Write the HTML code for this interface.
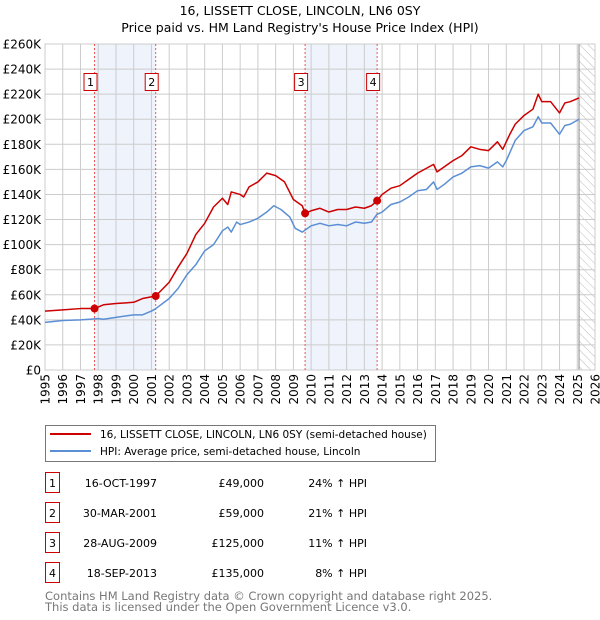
<!DOCTYPE html>
<html><head><meta charset="utf-8">
<style>
body{margin:0;background:#fff;font-family:"Liberation Sans","DejaVu Sans",sans-serif;}
svg{display:block}
text{font-family:"DejaVu Sans","Liberation Sans",sans-serif;}
</style></head>
<body>
<svg id="c" width="600" height="620" viewBox="0 0 600 620">
<defs>
<pattern id="hatch" width="6" height="6" patternUnits="userSpaceOnUse" patternTransform="rotate(-45)">
<line x1="0" y1="0" x2="0" y2="6" stroke="#bbb" stroke-width="1"/>
</pattern>
</defs>
<text x="300" y="15" text-anchor="middle" font-size="12.5">16, LISSETT CLOSE, LINCOLN, LN6 0SY</text>
<text x="300" y="32" text-anchor="middle" font-size="12.5">Price paid vs. HM Land Registry's House Price Index (HPI)</text>
<g id="plot"></g>
<g>
<rect x="45.5" y="425.5" width="390" height="36" fill="#fff" stroke="#777"/>
<line x1="50" y1="434" x2="91" y2="434" stroke="#cc0000" stroke-width="2"/>
<text x="100" y="438" font-size="10.5">16, LISSETT CLOSE, LINCOLN, LN6 0SY (semi-detached house)</text>
<line x1="50" y1="451" x2="91" y2="451" stroke="#5b8fd4" stroke-width="2"/>
<text x="100" y="455" font-size="10.5">HPI: Average price, semi-detached house, Lincoln</text>
</g>
<g id="table" font-size="11"></g>
<text x="45" y="600" font-size="11.5" fill="#777">Contains HM Land Registry data © Crown copyright and database right 2025.</text>
<text x="45" y="611" font-size="11.5" fill="#777">This data is licensed under the Open Government Licence v3.0.</text>
</svg>
<script>
const hpiYears=[1995,1996,1997,1998,1998.3,1999,2000,2000.5,2001,2001.2,2002,2002.5,2003,2003.5,2004,2004.5,2005,2005.3,2005.5,2005.8,2006,2006.5,2007,2007.5,2007.9,2008.3,2008.8,2009.1,2009.5,2010,2010.5,2011,2011.5,2012,2012.5,2013,2013.4,2013.7,2014,2014.5,2015,2015.5,2016,2016.5,2016.9,2017.1,2017.5,2018,2018.5,2019,2019.5,2020,2020.5,2020.8,2021,2021.5,2022,2022.5,2022.8,2023,2023.5,2024,2024.3,2024.6,2025.1];
const hpiValues=[38,39.5,40,41,40.5,42,44,44,47,48.5,57,65,76,84,95,100,111,114,110,118,116,118,121,126,131,128,122,113,110,115,117,115,116,115,118,117,118,124,126,132,134,138,143,144,150,144,148,154,157,162,163,161,166,162,167,183,191,194,202,197,197,188,195,196,200];
const propYears=[1995,1996,1997,1997.79,1998.3,1999,2000,2000.5,2001.24,2002,2002.5,2003,2003.5,2004,2004.5,2005,2005.3,2005.5,2006,2006.2,2006.5,2007,2007.5,2008,2008.5,2009,2009.5,2009.66,2010,2010.5,2011,2011.5,2012,2012.5,2013,2013.4,2013.72,2014,2014.5,2015,2015.5,2016,2016.9,2017.1,2018,2018.5,2019,2019.5,2020,2020.5,2020.8,2021.2,2021.5,2022,2022.5,2022.8,2023,2023.5,2024,2024.3,2024.6,2025.1];
const propValues=[47,48,49,49,52,53,54,57,59,70,82,93,108,117,130,137,132,142,140,138,146,150,157,155,150,136,131,125,127,129,126,128,128,130,129,131,135,140,145,147,152,157,164,158,167,171,178,176,175,182,176,188,196,203,208,220,214,214,205,213,214,217];
const saleLabels=["1","2","3","4"];
const saleYears=[1997.79,2001.24,2009.66,2013.72];
const salePrices=[49,59,125,135];
const saleDates=["16-OCT-1997","30-MAR-2001","28-AUG-2009","18-SEP-2013"];
const salePriceText=["£49,000","£59,000","£125,000","£135,000"];
const saleHpiText=["24% ↑ HPI","21% ↑ HPI","11% ↑ HPI","8% ↑ HPI"];
const yTicks=[0,20,40,60,80,100,120,140,160,180,200,220,240,260];
const xYears=[];for(let y=1995;y<=2026;y++)xYears.push(y);

const L=45,R=595,T=44,B=370,X0=1995,X1=2026,YMAX=260;
const xs=v=>L+(v-X0)/(X1-X0)*(R-L);
const ys=v=>B-v/YMAX*(B-T);
const NS="http://www.w3.org/2000/svg";
const plot=document.getElementById('plot');
function mk(tag,attrs,parent){const e=document.createElementNS(NS,tag);for(const k in attrs)e.setAttribute(k,attrs[k]);(parent||plot).appendChild(e);return e;}

for(let i=0;i<saleYears.length;i+=2){
  const b=mk('rect',{x:xs(saleYears[i]),y:T,width:xs(saleYears[i+1])-xs(saleYears[i]),height:B-T,fill:'#eef3fc'});
  
  
}
const lastX=xs(2025.1);
const h=mk('rect',{x:lastX,y:T,width:R-lastX,height:B-T,fill:'url(#hatch)'});


yTicks.forEach(v=>{
  const g=mk('line',{x1:L,x2:R,y1:ys(v),y2:ys(v),stroke:'#ccc','stroke-width':1});
  
  
  const t=mk('text',{x:L-4,y:ys(v)+4.5,'text-anchor':'end','font-size':12});
  t.textContent='£'+(v===0?'0':v+'K');
  
  
});
xYears.forEach(y=>{
  const g=mk('line',{x1:xs(y),x2:xs(y),y1:T,y2:B,stroke:'#ccc','stroke-width':1});
  
  
  const t=mk('text',{x:0,y:0,'text-anchor':'end','font-size':12,transform:`translate(${xs(y)+4.5},${B+4}) rotate(-90)`});
  t.textContent=y;
  
  
});
const vl=mk('line',{x1:lastX,x2:lastX,y1:T,y2:B,stroke:'#888','stroke-width':1});


mk('rect',{x:L,y:T,width:R-L,height:B-T,fill:'none',stroke:'#ccc'});
saleYears.forEach((y,i)=>{
  const l=mk('line',{x1:xs(y),x2:xs(y),y1:T,y2:B,stroke:'#ee5555','stroke-width':1,'stroke-dasharray':'2,2'});
  
  
  const bx=mk('rect',{x:xs(y)-10.5,y:73.5,width:13,height:17,fill:'#fff',stroke:'#cc0000'});
  
  
  const t=mk('text',{x:xs(y)-4,y:86,'text-anchor':'middle','font-size':11});
  t.textContent=saleLabels[i];
  
  
});
const hp=mk('polyline',{points:hpiYears.map((y,i)=>xs(y)+','+ys(hpiValues[i])).join(' '),fill:'none',stroke:'#5b8fd4','stroke-width':1.5,'stroke-linejoin':'round'});


const pp=mk('polyline',{points:propYears.map((y,i)=>xs(y)+','+ys(propValues[i])).join(' '),fill:'none',stroke:'#cc0000','stroke-width':1.5,'stroke-linejoin':'round'});


saleYears.forEach((y,i)=>{
  const d=mk('circle',{cx:xs(y),cy:ys(salePrices[i]),r:4,fill:'#cc0000'});
  
  
});
const tb=document.getElementById('table');
saleLabels.forEach((s,i)=>{
  const cy=483+i*30;
  const r=mk('rect',{x:45.5,y:cy-10.5,width:14,height:20,fill:'#fff',stroke:'#cc0000'},tb);
  
  
  const cells=[[52.5,'middle',s],[157,'end',saleDates[i]],[264,'end',salePriceText[i]],[367,'end',saleHpiText[i]]];
  cells.forEach((c,j)=>{
    const t=mk('text',{x:c[0],y:cy+4,'text-anchor':c[1],'font-size':11},tb);
    t.textContent=c[2];
    
    
  });
});
</script>
</body></html>
